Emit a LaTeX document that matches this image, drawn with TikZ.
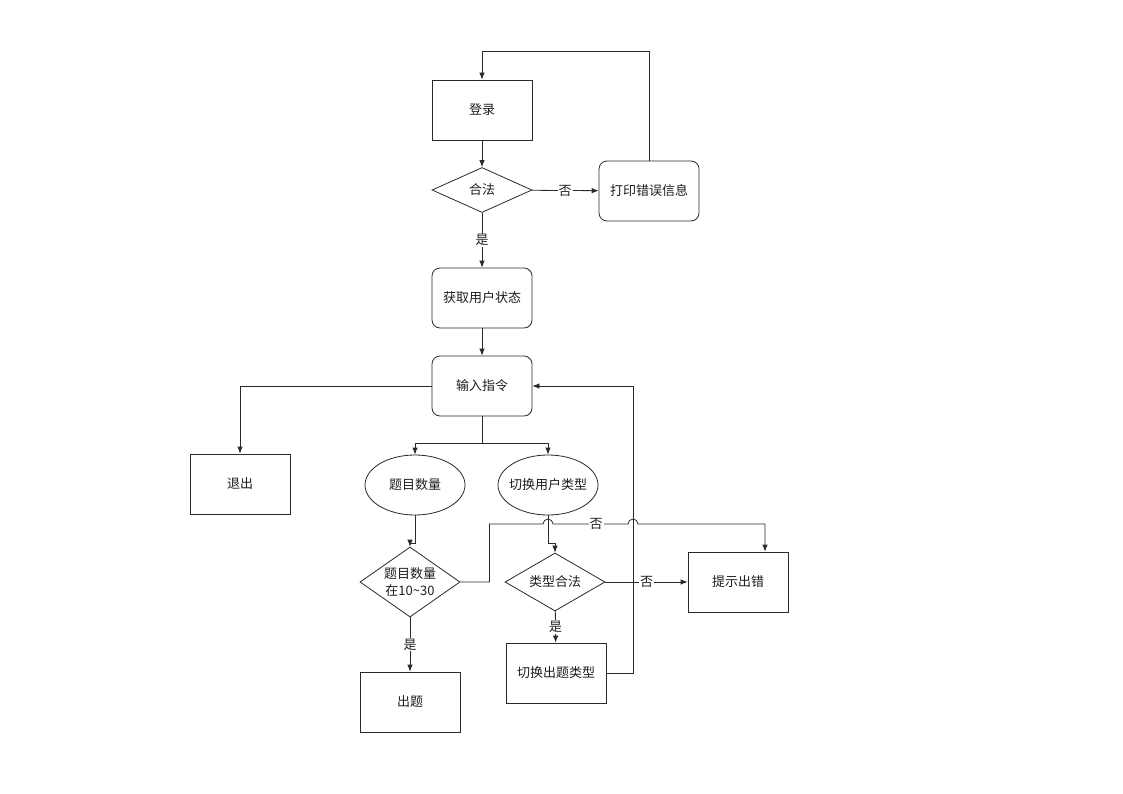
\documentclass[tikz,border=0pt]{standalone}
\usepackage{fontspec}
\usepackage{tikz}
\usetikzlibrary{arrows.meta,shapes.geometric}
\setmainfont{Noto Sans CJK SC}
\definecolor{fcInk}{HTML}{1E1E1E}
\definecolor{fcLine}{HTML}{2A2A2A}
\newcommand\fcfit[1]{\makebox[60pt]{#1}}
\tikzset{
  fc diagram/.style={x=1pt, y=-1pt, font=\fontsize{13}{17}\selectfont,
    text=fcInk, line join=miter},
  fc box/.style={draw=fcLine, fill=white, line width=0.8pt,
    minimum width=100pt, minimum height=60pt, inner sep=2pt, align=center},
  fc round box/.style={fc box, rounded corners=8pt},
  fc oval/.style={fc box, ellipse, inner sep=0pt},
  fc decision/.style={draw=fcLine, fill=white, line width=0.8pt, diamond,
    inner sep=0pt, align=center, minimum width=100pt},
  fc arrow/.style={-{Latex[length=7pt,width=5.5pt]}, draw=fcLine, line width=0.8pt},
  fc label/.style={fill=white, inner sep=1pt}
}

\begin{document}
\begin{tikzpicture}[fc diagram]
\useasboundingbox (0,0) rectangle (1123,794);
% login loop
\node[fc box] (login) at (482,110) {登录};
\node[fc decision, minimum height=45pt, aspect=2.2] (valid) at (482,190) {合法};
\node[fc round box] (printerr) at (649,191) {打印错误信息};
\node[fc round box] (status) at (482,298) {获取用户状态};
\node[fc round box] (input) at (482,386) {输入指令};
% commands
\node[fc box] (quit) at (240,484) {退出};
\node[fc oval] (count) at (415,485) {\fcfit{题目数量}};
\node[fc oval] (switch) at (548,485) {\fcfit{切换用户类型}};
\node[fc decision, minimum height=70pt, aspect=1.43] (range) at (410,582) {题目数量\\在10\textasciitilde30};
\node[fc decision, minimum height=58pt, aspect=1.7] (typeok) at (555,582) {类型合法};
\node[fc box] (tip) at (738,582) {提示出错};
\node[fc box] (make) at (410,702) {出题};
\node[fc box] (change) at (556,673) {切换出题类型};

\draw[fc arrow] (login) -- (valid);
\draw[fc arrow] (valid) -- node[fc label] {否} (printerr);
\draw[fc arrow] (printerr.north) -- ++(0,-109) -| (login.north);
\draw[fc arrow] (valid) -- node[fc label] {是} (status);
\draw[fc arrow] (status) -- (input);
\draw[fc arrow] (input.west) -| (quit.north);
\draw[fc arrow] (input.south) -- ++(0,27) -| (count.north);
\draw[fc arrow] (input.south) -- ++(0,27) -| (switch.north);
\draw[fc arrow] (count.south) -- ++(0,28) -| (range.north);
\draw[fc arrow] (switch.south) -- ++(0,28) -| (typeok.north);
\draw[fc arrow] (range.east) -- ++(29,0) |- (543,524)
  arc[start angle=180, end angle=0, radius=5pt] -- (628,524)
  arc[start angle=180, end angle=0, radius=5pt] -| ([xshift=27pt]tip.north);
\node[fc label] (nolabel) at (596,524) {否};
\draw[fc arrow] (range) -- node[fc label] {是} (make);
\draw[fc arrow] (typeok) -- node[fc label] {否} (tip);
\draw[fc arrow] (typeok) -- node[fc label] {是} (change);
\draw[fc arrow] (change.east) -- ++(27,0) |- (input.east);
\end{tikzpicture}
\end{document}
